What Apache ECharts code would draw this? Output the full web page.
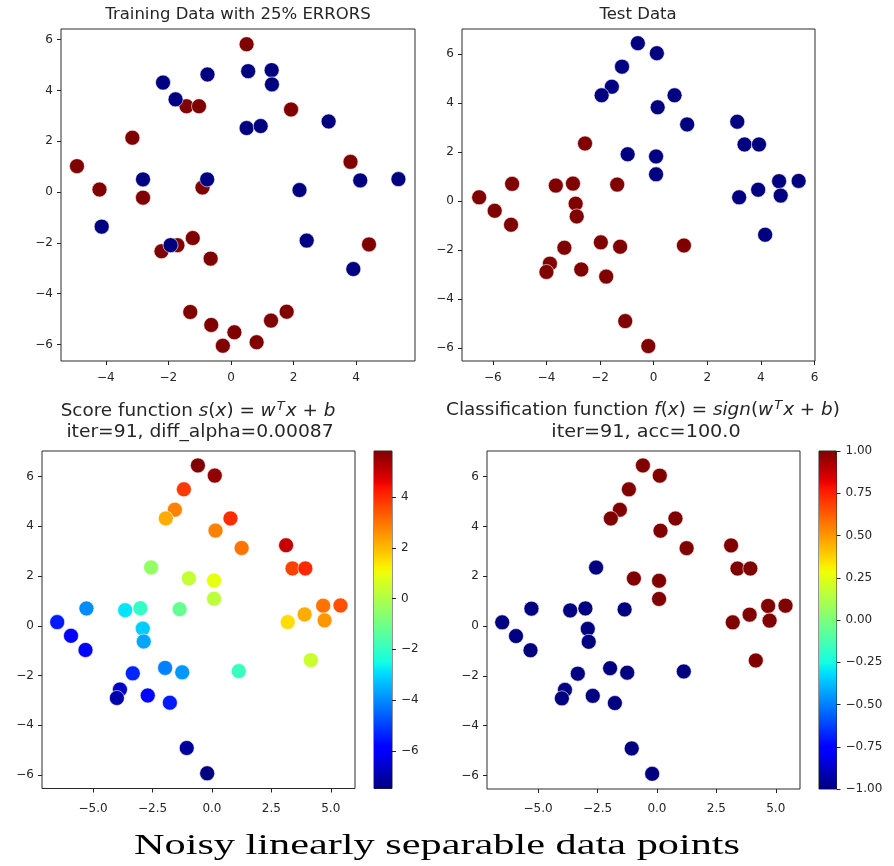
<!DOCTYPE html>
<html>
<head>
<meta charset="utf-8">
<script src="https://cdn.jsdelivr.net/npm/echarts@6/dist/echarts.min.js"></script>
<style>
html,body{margin:0;padding:0;background:#fff;}
#chart{width:894px;height:866px;}
</style>
</head>
<body>
<div id="chart"></div>
<script>
// ---------- DATA ----------
// Training data (top-left)
const trainRedX = [0.50, 1.92, -1.42, -1.02, -3.15, -4.92, -4.20, -2.81, -0.91, 3.82, 4.41, -1.22, -2.22, -1.71, -0.65, -1.30, -0.63, -0.26, 0.11, 0.82, 1.28, 1.78];
const trainRedY = [5.82, 3.25, 3.38, 3.38, 2.14, 1.02, 0.10, -0.22, 0.18, 1.19, -2.06, -1.81, -2.33, -2.09, -2.62, -4.72, -5.23, -6.05, -5.52, -5.91, -5.06, -4.71];
const trainBlueX = [-2.17, -1.77, -0.75, 0.55, 1.30, 1.31, 0.50, 0.95, 3.12, -2.81, -0.76, 2.19, 4.13, 5.35, -4.13, -1.93, 2.42, 3.91];
const trainBlueY = [4.31, 3.65, 4.63, 4.76, 4.80, 4.24, 2.52, 2.60, 2.78, 0.50, 0.50, 0.08, 0.46, 0.51, -1.36, -2.09, -1.91, -3.03];

// Test data (top-right and bottom plots)
const testBlueX = [-0.59, 0.12, -1.18, -1.56, -1.94, 0.78, 0.15, 1.25, -0.97, 0.09, 0.09, 3.12, 3.39, 3.93, 3.19, 3.90, 4.68, 4.74, 5.41, 4.16];
const testBlueY = [6.45, 6.04, 5.49, 4.67, 4.32, 4.32, 3.83, 3.13, 1.91, 1.82, 1.09, 3.24, 2.31, 2.31, 0.15, 0.46, 0.81, 0.22, 0.82, -1.38];
const testRedX = [-2.56, -6.51, -5.93, -5.28, -5.32, -3.65, -3.01, -2.91, -2.87, -1.36, -3.33, -3.87, -4.00, -2.70, -1.97, -1.25, -1.77, 1.13, -1.06, -0.20];
const testRedY = [2.35, 0.15, -0.40, 0.70, -0.97, 0.63, 0.71, -0.11, -0.63, 0.67, -1.91, -2.56, -2.90, -2.80, -1.69, -1.87, -3.09, -1.82, -4.91, -5.93];

const scoreBlue = [5.81, 5.6, 3.8, 2.8, 2.2, 4.0, 2.8, 3.0, 0.3, 0.9, 0.2, 5.0, 3.7, 4.05, 1.5, 2.2, 3.0, 2.5, 3.5, 0.4];
const scoreRed = [-0.45, -5.5, -5.9, -4.0, -6.0, -2.85, -2.05, -3.15, -3.65, -1.2, -5.35, -6.65, -7.0, -5.8, -4.15, -3.85, -5.5, -1.9, -7.15, -7.48];

// Classification f(x) = sign(...)
const predBlue = [1, 1, 1, 1, 1, 1, 1, 1, 1, 1, 1, 1, 1, 1, 1, 1, 1, 1, 1, 1];
const predRed = [-1, -1, -1, -1, -1, -1, -1, -1, -1, -1, -1, -1, -1, -1, -1, -1, -1, -1, -1, -1];

// Scales / ticks
const scoreRange = [-7.48, 5.81];
const classRange = [-1, 1];
const topLeftTicksX = [-4, -2, 0, 2, 4];
const topLeftTicksY = [-6, -4, -2, 0, 2, 4, 6];
const testTicksX = [-6, -4, -2, 0, 2, 4, 6];
const testTicksY = [-6, -4, -2, 0, 2, 4, 6];
const bottomTicksX = [-5, -2.5, 0, 2.5, 5];
const bottomTicksY = [-6, -4, -2, 0, 2, 4, 6];
const scoreCbTicks = [-6, -4, -2, 0, 2, 4];
const classCbTicks = [-1, -0.75, -0.5, -0.25, 0, 0.25, 0.5, 0.75, 1];

// ---------- COLORMAP (jet) ----------
function interp(seg, t) {
  for (let i = 1; i < seg.length; i++) {
    if (t <= seg[i][0]) {
      const a = seg[i - 1], b = seg[i];
      return a[1] + (b[1] - a[1]) * (t - a[0]) / (b[0] - a[0]);
    }
  }
  return seg[seg.length - 1][1];
}
const jR = [[0, 0], [0.35, 0], [0.66, 1], [0.89, 1], [1, 0.5]];
const jG = [[0, 0], [0.125, 0], [0.375, 1], [0.64, 1], [0.91, 0], [1, 0]];
const jB = [[0, 0.5], [0.11, 1], [0.34, 1], [0.65, 0], [1, 0]];
function jet(t) {
  const r = Math.round(255 * interp(jR, t)), g = Math.round(255 * interp(jG, t)), b = Math.round(255 * interp(jB, t));
  return 'rgb(' + r + ',' + g + ',' + b + ')';
}
const N = 64;
const jetColors = [];
const jetStops = [];
for (let i = 0; i <= N; i++) {
  const t = i / N;
  jetColors.push(jet(t));
  jetStops.push({ offset: t, color: jet(t) });
}

// ---------- HELPERS ----------
const FONT = 'DejaVu Sans';
const TXT = '#262626';
const minus = v => (v < 0 ? '\u2212' : '');
const fmtInt = v => minus(v) + Math.abs(Math.round(v));
const fmt1 = v => minus(v) + Math.abs(v).toFixed(1);
const fmt2 = v => minus(v) + Math.abs(v).toFixed(2);

function zip(xs, ys, vs) { return xs.map((x, i) => vs ? [x, ys[i], vs[i]] : [x, ys[i]]); }

function valAxis(gridIndex, min, max, ticks, formatter, margin, extra) {
  return Object.assign({
    type: 'value', gridIndex, min, max,
    axisLine: { show: false, onZero: false },
    splitLine: { show: false },
    axisTick: { show: true, inside: false, length: 4, customValues: ticks, lineStyle: { color: '#222', width: 1 } },
    axisLabel: { show: true, customValues: ticks, formatter, fontFamily: FONT, fontSize: 12, color: TXT, margin: margin }
  }, extra || {});
}

const gridStyle = { show: true, borderColor: '#2a2a2a', borderWidth: 1, backgroundColor: 'transparent' };

const grids = [
  Object.assign({ left: 61, top: 29, width: 354, height: 332 }, gridStyle),
  Object.assign({ left: 462, top: 29, width: 353, height: 332 }, gridStyle),
  Object.assign({ left: 42, top: 451, width: 313, height: 337.5 }, gridStyle),
  Object.assign({ left: 487, top: 451, width: 313, height: 338 }, gridStyle),
  Object.assign({ left: 374, top: 451, width: 18, height: 337.5 }, gridStyle),
  Object.assign({ left: 819, top: 451, width: 17.5, height: 338 }, gridStyle)
];

const TX = [-7.15, 6.02], TY = [-6.54, 7.03];

const xAxes = [
  valAxis(0, -5.43, 5.88, topLeftTicksX, fmtInt, 11),
  valAxis(1, TX[0], TX[1], testTicksX, fmtInt, 11),
  valAxis(2, TX[0], TX[1], bottomTicksX, fmt1, 14),
  valAxis(3, TX[0], TX[1], bottomTicksX, fmt1, 14),
  { type: 'value', gridIndex: 4, min: 0, max: 1, show: false },
  { type: 'value', gridIndex: 5, min: 0, max: 1, show: false }
];
const yAxes = [
  valAxis(0, -6.65, 6.42, topLeftTicksY, fmtInt, 8),
  valAxis(1, TY[0], TY[1], testTicksY, fmtInt, 8),
  valAxis(2, TY[0], TY[1], bottomTicksY, fmtInt, 8),
  valAxis(3, TY[0], TY[1], bottomTicksY, fmtInt, 8),
  valAxis(4, scoreRange[0], scoreRange[1], scoreCbTicks, fmtInt, 9, { position: 'right' }),
  valAxis(5, classRange[0], classRange[1], classCbTicks, fmt2, 9, { position: 'right' })
];

const SYM = 15;
const border = { borderColor: 'rgba(255,255,255,0.85)', borderWidth: 0.7 };
function scatter(idx, data, color) {
  const s = { type: 'scatter', xAxisIndex: idx, yAxisIndex: idx, data, symbolSize: SYM, itemStyle: Object.assign({ opacity: 1 }, border), emphasis: { disabled: true }, silent: true };
  if (color) s.itemStyle.color = color;
  return s;
}
function colorbar(idx, range) {
  return {
    type: 'custom', xAxisIndex: idx, yAxisIndex: idx, silent: true,
    data: [[0, range[0], 1, range[1]]],
    renderItem: function (params, api) {
      const p0 = api.coord([api.value(0), api.value(1)]);
      const p1 = api.coord([api.value(2), api.value(3)]);
      return {
        type: 'rect',
        shape: { x: p0[0], y: p1[1], width: p1[0] - p0[0], height: p0[1] - p1[1] },
        style: { fill: new echarts.graphic.LinearGradient(0, 1, 0, 0, jetStops) }
      };
    }
  };
}

const DARKRED = jet(1), NAVY = jet(0);

const series = [
  scatter(0, zip(trainRedX, trainRedY), DARKRED),
  scatter(0, zip(trainBlueX, trainBlueY), NAVY),
  scatter(1, zip(testRedX, testRedY), DARKRED),
  scatter(1, zip(testBlueX, testBlueY), NAVY),
  scatter(2, zip(testRedX, testRedY, scoreRed)),
  scatter(2, zip(testBlueX, testBlueY, scoreBlue)),
  scatter(3, zip(testRedX, testRedY, predRed)),
  scatter(3, zip(testBlueX, testBlueY, predBlue)),
  colorbar(4, scoreRange),
  colorbar(5, classRange)
];

const it = { fontFamily: FONT, fontStyle: 'italic', fontSize: 17, fill: TXT, lineHeight: 22 };
const rm = { fontFamily: FONT, fontSize: 17, fill: TXT, lineHeight: 22 };
const sup = { fontFamily: FONT, fontStyle: 'italic', fontSize: 12, fill: TXT, lineHeight: 8, verticalAlign: 'top', padding: [0, 1, 0, 1] };

function textEl(x, y, text, size, opts) {
  return Object.assign({
    type: 'text', x, y, silent: true,
    style: { text, fontFamily: FONT, fontSize: size, fill: TXT, align: 'center', verticalAlign: 'middle' }
  }, opts || {});
}

const graphic = [
  textEl(238, 15, 'Training Data with 25% ERRORS', 16.5),
  textEl(638, 15, 'Test Data', 16.5),
  {
    type: 'text', x: 198, y: 412, silent: true, scaleX: 1.08,
    style: {
      text: '{r|Score function }{i|s}{r|(}{i|x}{r|) = }{i|w}{s|T}{i|x}{r| + }{i|b}',
      align: 'center', verticalAlign: 'middle', fontFamily: FONT, fontSize: 17, fill: TXT,
      rich: { r: rm, i: it, s: sup }
    }
  },
  textEl(200, 433, 'iter=91, diff_alpha=0.00087', 17, { scaleX: 1.1 }),
  {
    type: 'text', x: 643, y: 411, silent: true, scaleX: 1.08,
    style: {
      text: '{r|Classification function }{i|f}{r|(}{i|x}{r|) = }{i|sign}{r|(}{i|w}{s|T}{i|x}{r| + }{i|b}{r|)}',
      align: 'center', verticalAlign: 'middle', fontFamily: FONT, fontSize: 17, fill: TXT,
      rich: { r: rm, i: it, s: sup }
    }
  },
  textEl(646, 433, 'iter=91, acc=100.0', 17, { scaleX: 1.13 }),
  {
    type: 'text', x: 437, y: 846, silent: true, scaleX: 1.41,
    style: { text: 'Noisy linearly separable data points', fontFamily: 'Liberation Serif', fontSize: 30, fill: '#000', align: 'center', verticalAlign: 'middle' }
  }
];

const chart = echarts.init(document.getElementById('chart'), null, { renderer: 'canvas' });
chart.setOption({
  animation: false,
  backgroundColor: '#fff',
  grid: grids,
  xAxis: xAxes,
  yAxis: yAxes,
  visualMap: [
    { type: 'continuous', show: false, seriesIndex: [4, 5], dimension: 2, min: scoreRange[0], max: scoreRange[1], inRange: { color: jetColors } },
    { type: 'continuous', show: false, seriesIndex: [6, 7], dimension: 2, min: classRange[0], max: classRange[1], inRange: { color: jetColors } }
  ],
  series,
  graphic
});
</script>
</body>
</html>
